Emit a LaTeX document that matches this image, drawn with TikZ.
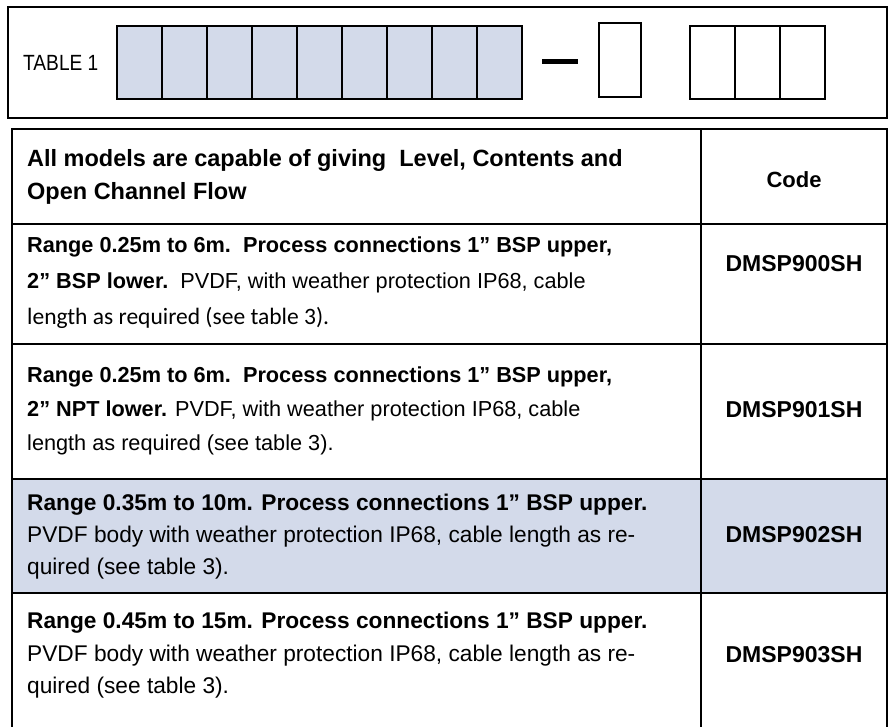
\documentclass[tikz,border=0pt]{standalone}
\usepackage{fontspec}
\setmainfont{Liberation Sans}
\newfontfamily\calfont{Carlito}
\newfontfamily\narrowfont{Liberation Sans}[FakeStretch=0.87]
\usetikzlibrary{positioning}
\definecolor{cellblue}{RGB}{211,218,234}

\tikzset{
  slot/.style={draw, line width=2pt, minimum width=45pt, minimum height=73pt, inner sep=0pt, outer sep=0pt},
  desc/.style={anchor=base west, inner sep=0pt, font=\fontsize{#1}{25}\selectfont},
  desc/.default=21.7,
  code/.style={anchor=base, inner sep=0pt, font=\bfseries\fontsize{23}{27}\selectfont},
  rule/.style={line width=2pt},
}

\begin{document}
\begin{tikzpicture}[x=1pt,y=-1pt]
    \useasboundingbox (0,0) rectangle (889,727);

    % order code box
    \draw[line width=2.5pt] (8,7) rectangle (887,118);
    \node[anchor=west, inner sep=0pt, font=\narrowfont\fontsize{22}{24}\selectfont] (tbl) at (23,63) {TABLE 1};

    \node[slot, fill=cellblue, anchor=north west] (s1) at (117,26) {};
    \foreach \i [remember=\i as \j (initially 1)] in {2,...,9}
        \node[slot, fill=cellblue, right=0pt of s\j] (s\i) {};

    \node[fill=black, minimum width=36pt, minimum height=5pt, inner sep=0pt] (minus) at (560,62) {};
    \node[slot, minimum width=42pt, minimum height=74pt, anchor=north west] (opt) at (599,23) {};

    \node[slot, anchor=north west] (e1) at (690,26) {};
    \node[slot, right=0pt of e1] (e2) {};
    \node[slot, right=0pt of e2] (e3) {};

    % table frame
    \fill[cellblue] (12,479) rectangle (887,593);
    \draw[rule] (12,740) -- (12,129) -- (887,129) -- (887,740);
    \draw[rule] (701,129) -- (701,740);
    \foreach \y in {224,344,479,593}
        \draw[rule] (12,\y) -- (887,\y);

    % header
    \node[desc=23.5] (h1) at (27,167) {\bfseries All models are capable of giving\ \ Level, Contents and};
    \node[desc=23.5] (h2) at (27,200) {\bfseries Open Channel Flow};
    \node[code, font=\bfseries\fontsize{22}{25}\selectfont] (hc) at (794,188) {Code};

    % row 1
    \node[desc] (a1) at (27,253) {\textbf{Range 0.25m to 6m.\ \ Process connections 1'' BSP upper,}};
    \node[desc] (a2) at (27,289) {\textbf{2'' BSP lower.}\ \ PVDF, with weather protection IP68, cable};
    \node[desc=23.5] (a3) at (27,325) {\calfont length as required (see table 3).};
    \node[code] (ca) at (794,272) {DMSP900SH};

    % row 2
    \node[desc] (b1) at (27,382) {\textbf{Range 0.25m to 6m.\ \ Process connections 1'' BSP upper,}};
    \node[desc] (b2) at (27,416) {\textbf{2'' NPT lower.} PVDF, with weather protection IP68, cable};
    \node[desc] (b3) at (27,450) {length as required (see table 3).};
    \node[code] (cb) at (794,417) {DMSP901SH};

    % row 3
    \node[desc=22.7] (c1) at (27,510) {\textbf{Range 0.35m to 10m. Process connections 1'' BSP upper.}};
    \node[desc=22.7] (c2) at (27,542) {PVDF body with weather protection IP68, cable length as re-};
    \node[desc=22.7] (c3) at (27,574) {quired (see table 3).};
    \node[code] (cc) at (794,542) {DMSP902SH};

    % row 4
    \node[desc=22.7] (d1) at (27,628) {\textbf{Range 0.45m to 15m. Process connections 1'' BSP upper.}};
    \node[desc=22.7] (d2) at (27,661) {PVDF body with weather protection IP68, cable length as re-};
    \node[desc=22.7] (d3) at (27,693) {quired (see table 3).};
    \node[code] (cd) at (794,662) {DMSP903SH};

\end{tikzpicture}
\end{document}
